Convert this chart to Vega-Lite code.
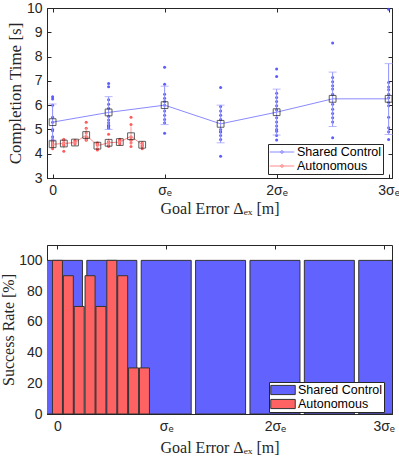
{
  "$schema": "https://vega.github.io/schema/vega-lite/v6.json",
  "padding": {"left": 0, "top": 0, "right": 2, "bottom": 2},
  "spacing": 27,
  "datasets": {
    "times": [
      {"series": "Shared Control", "e": 0, "t": 6.35}, {"series": "Shared Control", "e": 0, "t": 6.25}, {"series": "Shared Control", "e": 0, "t": 6.0}, {"series": "Shared Control", "e": 0, "t": 5.5}, {"series": "Shared Control", "e": 0, "t": 5.3}, {"series": "Shared Control", "e": 0, "t": 5.0}, {"series": "Shared Control", "e": 0, "t": 4.95}, {"series": "Shared Control", "e": 0, "t": 4.7}, {"series": "Shared Control", "e": 0, "t": 4.55}, {"series": "Shared Control", "e": 0, "t": 4.4},
      {"series": "Shared Control", "e": 0.5, "t": 6.89}, {"series": "Shared Control", "e": 0.5, "t": 6.76}, {"series": "Shared Control", "e": 0.5, "t": 6.22}, {"series": "Shared Control", "e": 0.5, "t": 6.04}, {"series": "Shared Control", "e": 0.5, "t": 5.87}, {"series": "Shared Control", "e": 0.5, "t": 5.53}, {"series": "Shared Control", "e": 0.5, "t": 5.39}, {"series": "Shared Control", "e": 0.5, "t": 5.28}, {"series": "Shared Control", "e": 0.5, "t": 5.17}, {"series": "Shared Control", "e": 0.5, "t": 5.1}, {"series": "Shared Control", "e": 0.5, "t": 5.05}, {"series": "Shared Control", "e": 0.5, "t": 5.15},
      {"series": "Shared Control", "e": 1, "t": 7.56}, {"series": "Shared Control", "e": 1, "t": 6.86}, {"series": "Shared Control", "e": 1, "t": 6.45}, {"series": "Shared Control", "e": 1, "t": 6.28}, {"series": "Shared Control", "e": 1, "t": 6.15}, {"series": "Shared Control", "e": 1, "t": 6.0}, {"series": "Shared Control", "e": 1, "t": 5.76}, {"series": "Shared Control", "e": 1, "t": 5.58}, {"series": "Shared Control", "e": 1, "t": 5.41}, {"series": "Shared Control", "e": 1, "t": 5.28}, {"series": "Shared Control", "e": 1, "t": 4.84},
      {"series": "Shared Control", "e": 1.5, "t": 6.73}, {"series": "Shared Control", "e": 1.5, "t": 5.94}, {"series": "Shared Control", "e": 1.5, "t": 5.76}, {"series": "Shared Control", "e": 1.5, "t": 5.58}, {"series": "Shared Control", "e": 1.5, "t": 5.41}, {"series": "Shared Control", "e": 1.5, "t": 5.0}, {"series": "Shared Control", "e": 1.5, "t": 4.9}, {"series": "Shared Control", "e": 1.5, "t": 4.89}, {"series": "Shared Control", "e": 1.5, "t": 4.59}, {"series": "Shared Control", "e": 1.5, "t": 3.9}, {"series": "Shared Control", "e": 1.5, "t": 4.75},
      {"series": "Shared Control", "e": 2, "t": 7.49}, {"series": "Shared Control", "e": 2, "t": 7.18}, {"series": "Shared Control", "e": 2, "t": 6.49}, {"series": "Shared Control", "e": 2, "t": 6.31}, {"series": "Shared Control", "e": 2, "t": 6.15}, {"series": "Shared Control", "e": 2, "t": 5.97}, {"series": "Shared Control", "e": 2, "t": 5.8}, {"series": "Shared Control", "e": 2, "t": 5.48}, {"series": "Shared Control", "e": 2, "t": 5.31}, {"series": "Shared Control", "e": 2, "t": 5.14}, {"series": "Shared Control", "e": 2, "t": 4.93}, {"series": "Shared Control", "e": 2, "t": 4.56}, {"series": "Shared Control", "e": 2, "t": 4.75}, {"series": "Shared Control", "e": 2, "t": 5.0},
      {"series": "Shared Control", "e": 2.5, "t": 8.56}, {"series": "Shared Control", "e": 2.5, "t": 7.14}, {"series": "Shared Control", "e": 2.5, "t": 6.96}, {"series": "Shared Control", "e": 2.5, "t": 6.8}, {"series": "Shared Control", "e": 2.5, "t": 6.66}, {"series": "Shared Control", "e": 2.5, "t": 6.45}, {"series": "Shared Control", "e": 2.5, "t": 6.04}, {"series": "Shared Control", "e": 2.5, "t": 5.83}, {"series": "Shared Control", "e": 2.5, "t": 5.66}, {"series": "Shared Control", "e": 2.5, "t": 5.48}, {"series": "Shared Control", "e": 2.5, "t": 5.31}, {"series": "Shared Control", "e": 2.5, "t": 4.66},
      {"series": "Shared Control", "e": 3, "t": 9.95}, {"series": "Shared Control", "e": 3, "t": 6.93}, {"series": "Shared Control", "e": 3, "t": 6.75}, {"series": "Shared Control", "e": 3, "t": 6.63}, {"series": "Shared Control", "e": 3, "t": 6.45}, {"series": "Shared Control", "e": 3, "t": 6.3}, {"series": "Shared Control", "e": 3, "t": 6.11}, {"series": "Shared Control", "e": 3, "t": 5.97}, {"series": "Shared Control", "e": 3, "t": 5.5}, {"series": "Shared Control", "e": 3, "t": 5.07}, {"series": "Shared Control", "e": 3, "t": 4.9}, {"series": "Shared Control", "e": 3, "t": 4.59},
      {"series": "Autonomous", "e": 0, "t": 4.6}, {"series": "Autonomous", "e": 0, "t": 4.5}, {"series": "Autonomous", "e": 0, "t": 4.45}, {"series": "Autonomous", "e": 0, "t": 4.35}, {"series": "Autonomous", "e": 0, "t": 4.3}, {"series": "Autonomous", "e": 0, "t": 4.2},
      {"series": "Autonomous", "e": 0.1, "t": 4.6}, {"series": "Autonomous", "e": 0.1, "t": 4.55}, {"series": "Autonomous", "e": 0.1, "t": 4.45}, {"series": "Autonomous", "e": 0.1, "t": 4.4}, {"series": "Autonomous", "e": 0.1, "t": 4.35}, {"series": "Autonomous", "e": 0.1, "t": 4.1},
      {"series": "Autonomous", "e": 0.2, "t": 4.55}, {"series": "Autonomous", "e": 0.2, "t": 4.5}, {"series": "Autonomous", "e": 0.2, "t": 4.45}, {"series": "Autonomous", "e": 0.2, "t": 4.4},
      {"series": "Autonomous", "e": 0.3, "t": 5.3}, {"series": "Autonomous", "e": 0.3, "t": 5.05}, {"series": "Autonomous", "e": 0.3, "t": 4.85}, {"series": "Autonomous", "e": 0.3, "t": 4.7}, {"series": "Autonomous", "e": 0.3, "t": 4.65}, {"series": "Autonomous", "e": 0.3, "t": 4.6}, {"series": "Autonomous", "e": 0.3, "t": 4.55},
      {"series": "Autonomous", "e": 0.4, "t": 4.45}, {"series": "Autonomous", "e": 0.4, "t": 4.4}, {"series": "Autonomous", "e": 0.4, "t": 4.35}, {"series": "Autonomous", "e": 0.4, "t": 4.2}, {"series": "Autonomous", "e": 0.4, "t": 4.15},
      {"series": "Autonomous", "e": 0.5, "t": 4.8}, {"series": "Autonomous", "e": 0.5, "t": 4.5}, {"series": "Autonomous", "e": 0.5, "t": 4.45}, {"series": "Autonomous", "e": 0.5, "t": 4.35}, {"series": "Autonomous", "e": 0.5, "t": 4.3},
      {"series": "Autonomous", "e": 0.6, "t": 4.6}, {"series": "Autonomous", "e": 0.6, "t": 4.55}, {"series": "Autonomous", "e": 0.6, "t": 4.5}, {"series": "Autonomous", "e": 0.6, "t": 4.45}, {"series": "Autonomous", "e": 0.6, "t": 4.4},
      {"series": "Autonomous", "e": 0.7, "t": 5.5}, {"series": "Autonomous", "e": 0.7, "t": 5.2}, {"series": "Autonomous", "e": 0.7, "t": 4.7}, {"series": "Autonomous", "e": 0.7, "t": 4.6}, {"series": "Autonomous", "e": 0.7, "t": 4.55}, {"series": "Autonomous", "e": 0.7, "t": 4.45}, {"series": "Autonomous", "e": 0.7, "t": 4.3},
      {"series": "Autonomous", "e": 0.8, "t": 4.45}, {"series": "Autonomous", "e": 0.8, "t": 4.4}, {"series": "Autonomous", "e": 0.8, "t": 4.35}, {"series": "Autonomous", "e": 0.8, "t": 4.3}, {"series": "Autonomous", "e": 0.8, "t": 4.2}
    ],
    "summary": [
      {"series": "Shared Control", "e": 0, "mean": 5.3, "lo": 4.55, "hi": 6.05},
      {"series": "Shared Control", "e": 0.5, "mean": 5.7, "lo": 5.0, "hi": 6.35},
      {"series": "Shared Control", "e": 1, "mean": 6.0, "lo": 5.2, "hi": 6.78},
      {"series": "Shared Control", "e": 1.5, "mean": 5.23, "lo": 4.45, "hi": 6.0},
      {"series": "Shared Control", "e": 2, "mean": 5.71, "lo": 4.77, "hi": 6.66},
      {"series": "Shared Control", "e": 2.5, "mean": 6.26, "lo": 5.12, "hi": 7.36},
      {"series": "Shared Control", "e": 3, "mean": 6.26, "lo": 4.79, "hi": 7.71},
      {"series": "Autonomous", "e": 0, "mean": 4.39, "lo": 4.24, "hi": 4.54},
      {"series": "Autonomous", "e": 0.1, "mean": 4.42, "lo": 4.22, "hi": 4.62},
      {"series": "Autonomous", "e": 0.2, "mean": 4.46, "lo": 4.38, "hi": 4.54},
      {"series": "Autonomous", "e": 0.3, "mean": 4.77, "lo": 4.5, "hi": 5.06},
      {"series": "Autonomous", "e": 0.4, "mean": 4.33, "lo": 4.2, "hi": 4.45},
      {"series": "Autonomous", "e": 0.5, "mean": 4.45, "lo": 4.28, "hi": 4.62},
      {"series": "Autonomous", "e": 0.6, "mean": 4.48, "lo": 4.41, "hi": 4.55},
      {"series": "Autonomous", "e": 0.7, "mean": 4.72, "lo": 4.33, "hi": 5.12},
      {"series": "Autonomous", "e": 0.8, "mean": 4.37, "lo": 4.26, "hi": 4.47}
    ],
    "rates": [
      {"series": "Shared Control", "e": 0, "rate": 100},
      {"series": "Shared Control", "e": 0.5, "rate": 100},
      {"series": "Shared Control", "e": 1, "rate": 100},
      {"series": "Shared Control", "e": 1.5, "rate": 100},
      {"series": "Shared Control", "e": 2, "rate": 100},
      {"series": "Shared Control", "e": 2.5, "rate": 100},
      {"series": "Shared Control", "e": 3, "rate": 100},
      {"series": "Autonomous", "e": 0, "rate": 100},
      {"series": "Autonomous", "e": 0.1, "rate": 90},
      {"series": "Autonomous", "e": 0.2, "rate": 70},
      {"series": "Autonomous", "e": 0.3, "rate": 90},
      {"series": "Autonomous", "e": 0.4, "rate": 70},
      {"series": "Autonomous", "e": 0.5, "rate": 100},
      {"series": "Autonomous", "e": 0.6, "rate": 90},
      {"series": "Autonomous", "e": 0.7, "rate": 30},
      {"series": "Autonomous", "e": 0.8, "rate": 30}
    ]
  },
  "resolve": {"scale": {"color": "independent"}},
  "vconcat": [
    {
      "width": 345,
      "height": 170,
      "resolve": {"axis": {"x": "independent", "y": "independent"}},
      "layer": [
        {
          "data": {"name": "times"},
          "transform": [{"filter": "datum.series === 'Shared Control'"}],
          "mark": {"type": "circle", "size": 9, "color": "#4a4aff", "opacity": 0.9},
          "encoding": {
            "x": {"field": "e", "type": "quantitative", "scale": {"domain": [-0.05, 3.03], "nice": false, "zero": false},
              "axis": {"values": [0, 1, 2, 3], "labelExpr": "datum.value == 0 ? '0' : (datum.value == 1 ? 'σₑ' : datum.value + 'σₑ')", "title": "Goal Error Δₑₓ [m]", "labelPadding": 9, "titlePadding": 3}},
            "y": {"field": "t", "type": "quantitative", "scale": {"domain": [3, 10], "nice": false, "zero": false},
              "axis": {"values": [3, 4, 5, 6, 7, 8, 9, 10], "title": "Completion Time [s]", "titleFontSize": 17, "labelPadding": 9, "titlePadding": 2}}
          }
        },
        {
          "data": {"name": "times"},
          "transform": [{"filter": "datum.series === 'Autonomous'"}],
          "mark": {"type": "circle", "size": 9, "color": "#ff4a4a", "opacity": 0.9},
          "encoding": {
            "x": {"field": "e", "type": "quantitative", "scale": {"domain": [-0.05, 3.03], "nice": false, "zero": false}, "axis": null},
            "y": {"field": "t", "type": "quantitative", "scale": {"domain": [3, 10], "nice": false, "zero": false}, "axis": null}
          }
        },
        {
          "data": {"name": "summary"},
          "transform": [{"filter": "datum.series === 'Shared Control'"}],
          "mark": {"type": "rule", "strokeWidth": 1, "color": "#8f8fff"},
          "encoding": {
            "x": {"field": "e", "type": "quantitative", "scale": {"domain": [-0.05, 3.03], "nice": false, "zero": false}, "axis": null},
            "y": {"field": "lo", "type": "quantitative", "scale": {"domain": [3, 10], "nice": false, "zero": false}, "axis": null},
            "y2": {"field": "hi"}
          }
        },
        {
          "data": {"name": "summary"},
          "transform": [{"filter": "datum.series === 'Autonomous'"}],
          "mark": {"type": "rule", "strokeWidth": 1, "color": "#ff9a9a"},
          "encoding": {
            "x": {"field": "e", "type": "quantitative", "scale": {"domain": [-0.05, 3.03], "nice": false, "zero": false}, "axis": null},
            "y": {"field": "lo", "type": "quantitative", "scale": {"domain": [3, 10], "nice": false, "zero": false}, "axis": null},
            "y2": {"field": "hi"}
          }
        },
        {
          "data": {"name": "summary"},
          "transform": [{"filter": "datum.series === 'Shared Control'"}],
          "mark": {"type": "tick", "orient": "horizontal", "size": 8, "thickness": 1, "color": "#9a9aff"},
          "encoding": {
            "x": {"field": "e", "type": "quantitative", "scale": {"domain": [-0.05, 3.03], "nice": false, "zero": false}, "axis": null},
            "y": {"field": "lo", "type": "quantitative", "scale": {"domain": [3, 10], "nice": false, "zero": false}, "axis": null}
          }
        },
        {
          "data": {"name": "summary"},
          "transform": [{"filter": "datum.series === 'Shared Control'"}],
          "mark": {"type": "tick", "orient": "horizontal", "size": 8, "thickness": 1, "color": "#9a9aff"},
          "encoding": {
            "x": {"field": "e", "type": "quantitative", "scale": {"domain": [-0.05, 3.03], "nice": false, "zero": false}, "axis": null},
            "y": {"field": "hi", "type": "quantitative", "scale": {"domain": [3, 10], "nice": false, "zero": false}, "axis": null}
          }
        },
        {
          "data": {"name": "summary"},
          "mark": {"type": "line", "strokeWidth": 1},
          "encoding": {
            "x": {"field": "e", "type": "quantitative", "scale": {"domain": [-0.05, 3.03], "nice": false, "zero": false}, "axis": null},
            "y": {"field": "mean", "type": "quantitative", "scale": {"domain": [3, 10], "nice": false, "zero": false}, "axis": null},
            "color": {"field": "series", "type": "nominal", "scale": {"domain": ["Shared Control", "Autonomous"], "range": ["#8a8aff", "#ff8a8a"]},
              "legend": {"title": null, "orient": "none", "legendX": 221, "legendY": 136, "fillColor": "white", "strokeColor": "#262626", "padding": 1, "rowPadding": 0,
                "labelFont": "Liberation Sans", "labelFontSize": 12.5, "labelColor": "#000000", "labelOffset": 8,
                "symbolType": "M-2,0H2M0.22,0A0.22,0.22 0 1,1 -0.22,0A0.22,0.22 0 1,1 0.22,0", "symbolSize": 150, "symbolStrokeWidth": 1, "symbolOffset": 6}}
          }
        },
        {
          "data": {"name": "summary"},
          "mark": {"type": "square", "size": 46, "filled": false, "stroke": "#1a1a1a", "strokeWidth": 1},
          "encoding": {
            "x": {"field": "e", "type": "quantitative", "scale": {"domain": [-0.05, 3.03], "nice": false, "zero": false},
              "axis": {"orient": "top", "values": [0, 1, 2, 3], "labels": false, "title": null, "domain": false}},
            "y": {"field": "mean", "type": "quantitative", "scale": {"domain": [3, 10], "nice": false, "zero": false},
              "axis": {"orient": "right", "values": [3, 4, 5, 6, 7, 8, 9, 10], "labels": false, "title": null, "domain": false}}
          }
        }
      ]
    },
    {
      "width": 345,
      "height": 169,
      "resolve": {"axis": {"x": "independent", "y": "independent"}},
      "layer": [
        {
          "data": {"name": "rates"},
          "transform": [{"filter": "datum.series === 'Shared Control'"}],
          "mark": {"type": "bar", "width": 50, "clip": true, "stroke": "#333333", "strokeWidth": 1},
          "encoding": {
            "x": {"field": "e", "type": "quantitative", "scale": {"domain": [-0.05, 3.03], "nice": false, "zero": false},
              "axis": {"values": [0, 1, 2, 3], "labelExpr": "datum.value == 0 ? '0' : (datum.value == 1 ? 'σₑ' : datum.value + 'σₑ')", "title": "Goal Error Δₑₓ [m]", "labelPadding": 9, "titlePadding": 6}},
            "y": {"field": "rate", "type": "quantitative", "scale": {"domain": [0, 110], "nice": false},
              "axis": {"values": [0, 20, 40, 60, 80, 100], "title": "Success Rate [%]", "labelPadding": 9, "titlePadding": 2}},
            "color": {"field": "series", "type": "nominal", "scale": {"domain": ["Shared Control", "Autonomous"], "range": ["#6262ff", "#ff6262"]},
              "legend": {"title": null, "orient": "none", "legendX": 222, "legendY": 137, "fillColor": "white", "strokeColor": "#262626", "padding": 1, "rowPadding": 0,
                "labelFont": "Liberation Sans", "labelFontSize": 12.5, "labelColor": "#000000", "labelOffset": 8,
                "symbolType": "M-2,-0.75H2V0.75H-2Z", "symbolSize": 150, "symbolStrokeColor": "#333333", "symbolStrokeWidth": 1, "symbolOffset": 6}}
          }
        },
        {
          "data": {"name": "rates"},
          "transform": [{"filter": "datum.series === 'Autonomous'"}],
          "mark": {"type": "bar", "width": 10, "clip": true, "stroke": "#333333", "strokeWidth": 1},
          "encoding": {
            "x": {"field": "e", "type": "quantitative", "scale": {"domain": [-0.05, 3.03], "nice": false, "zero": false},
              "axis": {"orient": "top", "values": [0, 1, 2, 3], "labels": false, "title": null, "domain": false}},
            "y": {"field": "rate", "type": "quantitative", "scale": {"domain": [0, 110], "nice": false},
              "axis": {"orient": "right", "values": [0, 20, 40, 60, 80, 100], "labels": false, "title": null, "domain": false}},
            "color": {"field": "series", "type": "nominal", "scale": {"domain": ["Shared Control", "Autonomous"], "range": ["#6262ff", "#ff6262"]}}
          }
        }
      ]
    }
  ],
  "config": {
    "view": {"stroke": "#262626", "strokeWidth": 1},
    "axis": {"grid": false, "domainColor": "#262626", "tickColor": "#262626", "tickSize": -4,
      "labelFont": "Liberation Sans", "labelFontSize": 14, "labelColor": "#262626",
      "titleFont": "Liberation Serif", "titleFontSize": 16, "titleFontWeight": "normal", "titleColor": "#262626"},
    "legend": {"cornerRadius": 0}
  }
}
